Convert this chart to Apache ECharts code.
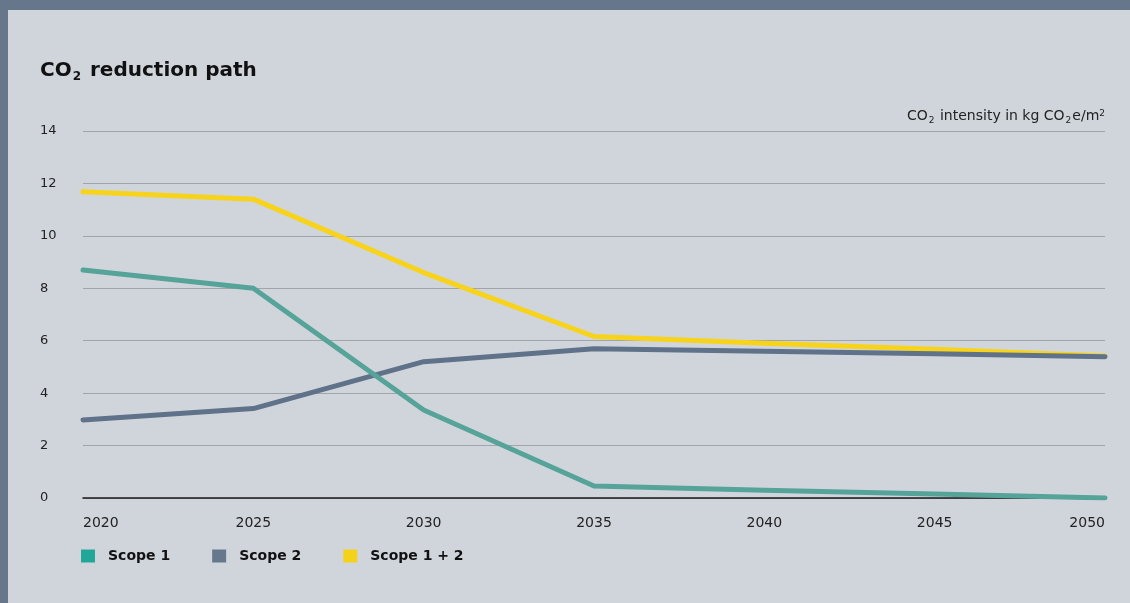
<!DOCTYPE html>
<html>
<head>
<meta charset="utf-8">
<script src="https://cdn.jsdelivr.net/npm/echarts@6/dist/echarts.min.js"></script>
<style>
html,body{margin:0;padding:0;background:#66778c;}
#chart{width:1130px;height:603px;}
</style>
</head>
<body>
<div id="chart"></div>
<script>
const years = [2020, 2025, 2030, 2035, 2040, 2045, 2050];
const scope1 = [8.7, 8.0, 3.36, 0.46, 0.3, 0.15, 0.0];
const scope2 = [2.98, 3.41, 5.2, 5.69, 5.6, 5.5, 5.39];
const scope12 = [11.68, 11.4, 8.6, 6.16, 5.9, 5.67, 5.42];
const yTicks = [0, 2, 4, 6, 8, 10, 12, 14];
const seriesNames = ['Scope 1', 'Scope 2', 'Scope 1 + 2'];

const FONT = '"DejaVu Sans", sans-serif';
const pair = arr => years.map((y, i) => [y, arr[i]]);

const chart = echarts.init(document.getElementById('chart'));
chart.setOption({
  backgroundColor: '#d0d5dc',
  animation: false,
  textStyle: { fontFamily: FONT },
  title: {
    left: 35, top: 54,
    text: 'CO{s|2} reduction path',
    textStyle: {
      fontSize: 20, fontWeight: 'bold', color: '#111', fontFamily: FONT,
      rich: { s: { fontSize: 12, fontWeight: 'bold', color: '#111', padding: [12, 2, 0, 1], fontFamily: FONT } }
    }
  },
  graphic: [
    { type: 'rect', left: 0, top: 0, shape: { width: 1130, height: 10 }, style: { fill: '#66778c' } },
    { type: 'rect', left: 0, top: 0, shape: { width: 8, height: 603 }, style: { fill: '#66778c' } },
    {
      type: 'text', right: 25, top: 109,
      style: {
        text: 'CO{s|2} intensity in kg CO{s|2}e/m{p|2}',
        fill: '#222', fontSize: 14, fontFamily: FONT,
        rich: {
          s: { fontSize: 9, fill: '#222', padding: [9, 1, 0, 1], fontFamily: FONT },
          p: { fontSize: 9, fill: '#222', padding: [0, 0, 6, 0], fontFamily: FONT }
        }
      }
    }
  ],
  legend: {
    left: 81, top: 549, padding: 0,
    icon: 'rect', itemWidth: 14, itemHeight: 13, itemGap: 42,
    data: seriesNames,
    textStyle: { fontSize: 14, fontWeight: 'bold', color: '#111', fontFamily: FONT, padding: [0, 0, 0, 8] }
  },
  grid: { left: 83, right: 25, top: 131, bottom: 105, containLabel: false },
  xAxis: {
    type: 'value', min: 2020, max: 2050, interval: 5,
    axisLine: { show: true, onZero: true, lineStyle: { color: '#1a1a1a', width: 1.5 } },
    axisTick: { show: false },
    splitLine: { show: false },
    axisLabel: {
      margin: 18, fontSize: 14, color: '#222', fontFamily: FONT,
      alignMinLabel: 'left', alignMaxLabel: 'right',
      formatter: v => String(v)
    }
  },
  yAxis: {
    type: 'value', min: yTicks[0], max: yTicks[yTicks.length - 1], interval: 2,
    axisLine: { show: false }, axisTick: { show: false },
    splitLine: { lineStyle: { color: '#a2a5a8', width: 1.2 } },
    axisLabel: { align: 'left', margin: 43, fontSize: 13, color: '#222', fontFamily: FONT }
  },
  series: [
    {
      name: seriesNames[0], type: 'line', data: pair(scope1), showSymbol: false, z: 5,
      itemStyle: { color: '#22a698' },
      lineStyle: { color: '#56a39a', width: 5, cap: 'round', join: 'round' }
    },
    {
      name: seriesNames[1], type: 'line', data: pair(scope2), showSymbol: false, z: 4,
      itemStyle: { color: '#67788c' },
      lineStyle: { color: '#5f7289', width: 5, cap: 'round', join: 'round' }
    },
    {
      name: seriesNames[2], type: 'line', data: pair(scope12), showSymbol: false, z: 3,
      itemStyle: { color: '#f5d21a' },
      lineStyle: { color: '#f7d31b', width: 5, cap: 'round', join: 'round' }
    }
  ]
});
</script>
</body>
</html>
